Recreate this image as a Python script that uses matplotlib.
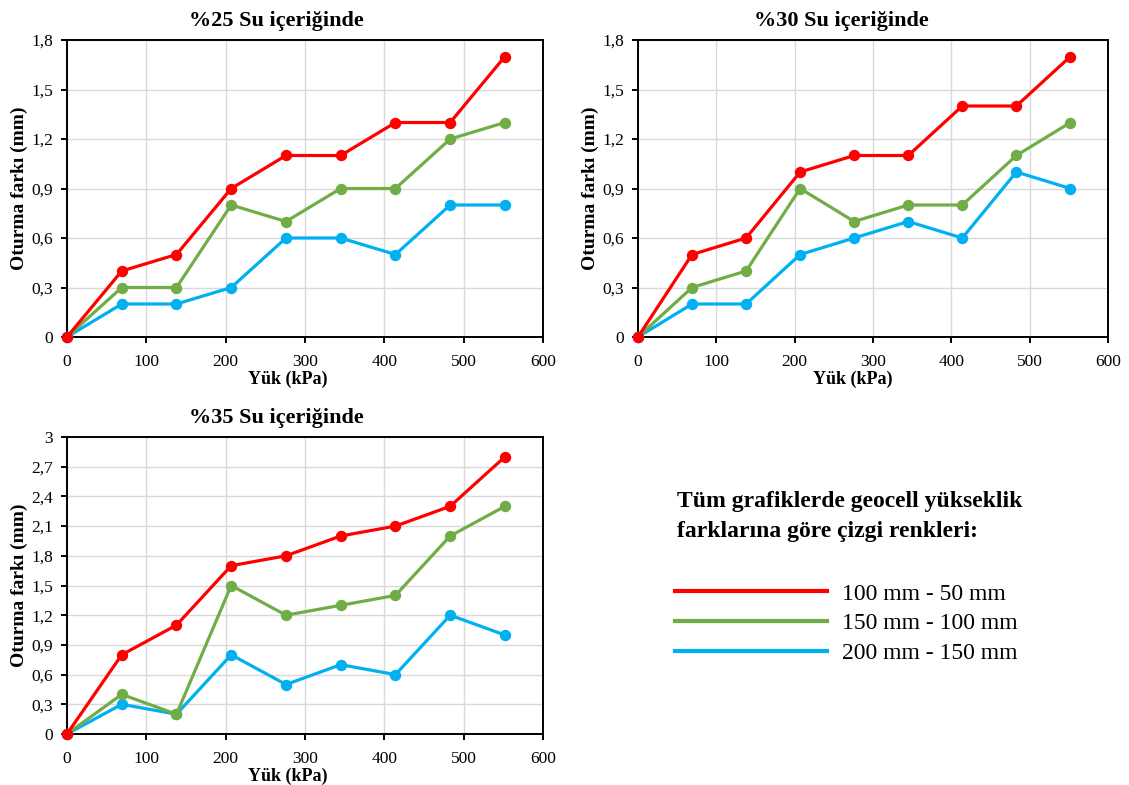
import matplotlib.pyplot as plt
from matplotlib.ticker import FuncFormatter, MultipleLocator
from matplotlib.lines import Line2D

plt.rcParams['font.family'] = ['Liberation Serif', 'DejaVu Serif']

# load steps (kPa)
yuk = [0, 69, 138, 207, 276, 345, 414, 483, 552]

# %25 water content
s25_red = [0, 0.4, 0.5, 0.9, 1.1, 1.1, 1.3, 1.3, 1.7]
s25_green = [0, 0.3, 0.3, 0.8, 0.7, 0.9, 0.9, 1.2, 1.3]
s25_blue = [0, 0.2, 0.2, 0.3, 0.6, 0.6, 0.5, 0.8, 0.8]

# %30 water content
s30_red = [0, 0.5, 0.6, 1.0, 1.1, 1.1, 1.4, 1.4, 1.7]
s30_green = [0, 0.3, 0.4, 0.9, 0.7, 0.8, 0.8, 1.1, 1.3]
s30_blue = [0, 0.2, 0.2, 0.5, 0.6, 0.7, 0.6, 1.0, 0.9]

# %35 water content
s35_red = [0, 0.8, 1.1, 1.7, 1.8, 2.0, 2.1, 2.3, 2.8]
s35_green = [0, 0.4, 0.2, 1.5, 1.2, 1.3, 1.4, 2.0, 2.3]
s35_blue = [0, 0.3, 0.2, 0.8, 0.5, 0.7, 0.6, 1.2, 1.0]

series_labels = ['100 mm - 50 mm', '150 mm - 100 mm', '200 mm - 150 mm']
colors = ['#FF0000', '#70AD47', '#00B0F0']


def comma_fmt(v, pos):
    if abs(v) < 1e-9:
        return '0'
    s = ('%.1f' % v).rstrip('0').rstrip('.')
    return s.replace('.', ',')


def draw(ax, title, red, green, blue, ymax, tx, lx):
    for ys, c in zip([red, green, blue][::-1], colors[::-1]):
        ax.plot(yuk, ys, color=c, lw=2.3, marker='o', ms=7.2, zorder=3,
                clip_on=False)
    ax.set_xlim(0, 600)
    ax.set_ylim(0, ymax)
    ax.xaxis.set_major_locator(MultipleLocator(100))
    ax.yaxis.set_major_locator(MultipleLocator(0.3))
    ax.yaxis.set_major_formatter(FuncFormatter(comma_fmt))
    ax.grid(True, color='#D9D9D9', lw=1)
    ax.set_axisbelow(True)
    for sp in ax.spines.values():
        sp.set_color('black')
        sp.set_linewidth(1.4)
    ax.tick_params(direction='out', length=4, width=1.4, labelsize=12.5)
    ax.tick_params(axis='x', pad=8)
    ax.tick_params(axis='y', pad=6)
    ax.set_title(title, fontsize=16, fontweight='bold', pad=10, x=tx)
    ax.set_xlabel('Yük (kPa)', fontsize=13, fontweight='bold', labelpad=1,
                  x=lx)
    ax.set_ylabel('Oturma farkı (mm)', fontsize=14, fontweight='bold',
                  labelpad=2.5)


fig = plt.figure(figsize=(11.29, 7.85), dpi=100)
W, H = 1129, 785

ax1 = fig.add_axes([67 / W, 1 - 337 / H, 476 / W, 297 / H])
ax2 = fig.add_axes([638 / W, 1 - 337 / H, 470 / W, 297 / H])
ax3 = fig.add_axes([67 / W, 1 - 734 / H, 476 / W, 297 / H])

draw(ax1, '%25 Su içeriğinde', s25_red, s25_green, s25_blue, 1.8, 0.44, 0.464)
draw(ax2, '%30 Su içeriğinde', s30_red, s30_green, s30_blue, 1.8, 0.432, 0.456)
draw(ax3, '%35 Su içeriğinde', s35_red, s35_green, s35_blue, 3.0, 0.44, 0.464)

# legend block
fig.text(677 / W, 1 - 502 / H, 'Tüm grafiklerde geocell yükseklik',
         fontsize=17, fontweight='bold', va='center', ha='left')
fig.text(677 / W, 1 - 531 / H, 'farklarına göre çizgi renkleri:',
         fontsize=17, fontweight='bold', va='center', ha='left')
handles = [Line2D([0], [0], color=c, lw=3) for c in colors]
fig.legend(handles, series_labels, loc='upper left',
           bbox_to_anchor=(675 / W, 1 - 583 / H), frameon=False,
           fontsize=17, handlelength=6.45, handletextpad=0.62,
           labelspacing=0.35, borderpad=0, borderaxespad=0)

fig.savefig('out.png', dpi=100)
